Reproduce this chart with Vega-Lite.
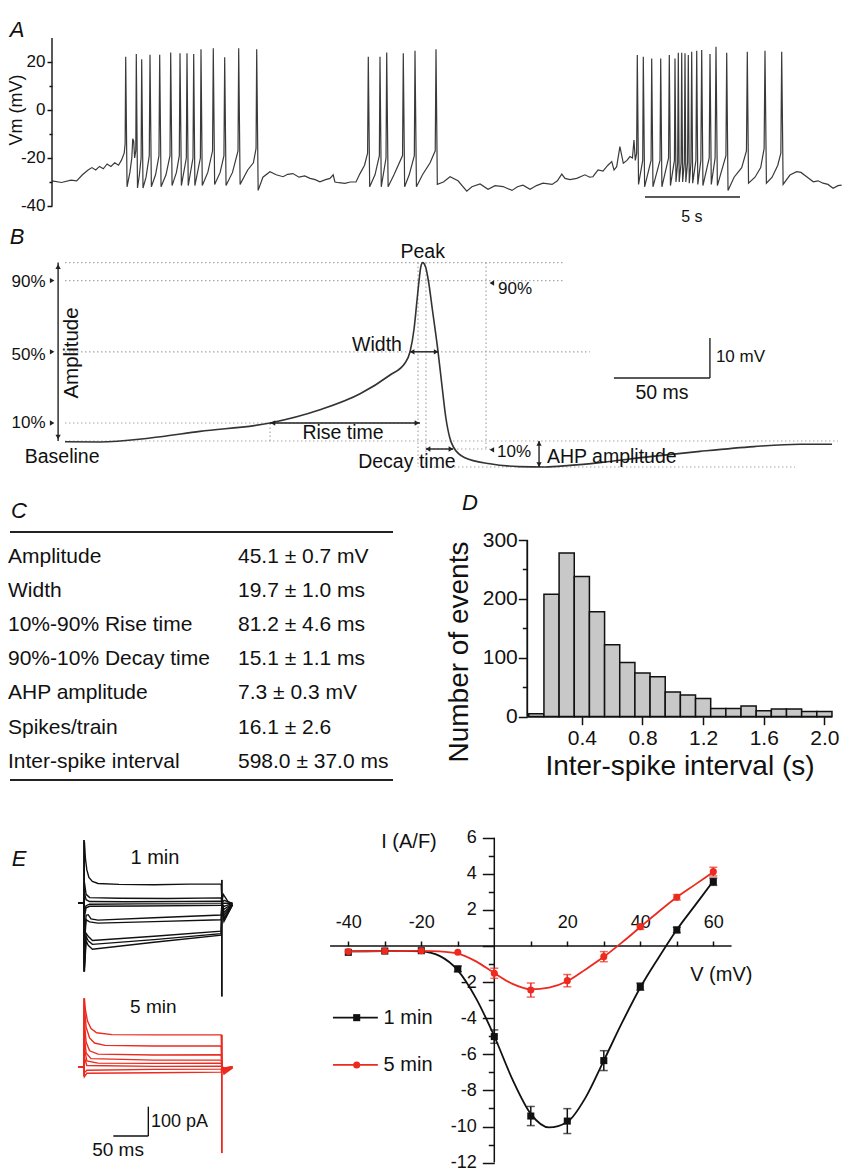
{
"$schema": "https://vega.github.io/schema/vega-lite/v6.json",
"width": 843, "height": 1168,
"autosize": {"type": "none"},
"padding": 0,
"background": "white",
"config": {
 "view": {"stroke": null},
 "font": "Liberation Sans",
 "axis": {"labelFont": "Liberation Sans", "labelColor": "#111", "tickColor": "#111", "domainColor": "#111", "grid": false, "labelOverlap": false, "labelFlush": false, "tickWidth": 1.5},
 "text": {"font": "Liberation Sans", "color": "#111"}
},
"resolve": {"scale": {"x": "independent", "y": "independent", "color": "independent", "shape": "independent"}, "axis": {"x": "independent", "y": "independent"}},
"layer": [
{
 "encoding": {
  "x": {"field": "t", "type": "quantitative", "scale": {"domain": [-2.7368, 41.6316], "nice": false, "zero": false}, "axis": null},
  "y": {"field": "v", "type": "quantitative", "scale": {"domain": [-440.833, 45.833], "nice": false, "zero": false},
        "axis": {"orient": "left", "offset": -52, "domain": false, "values": [-40, -30, -20, -10, 0, 10, 20],
                 "labelExpr": "datum.value % 20 === 0 ? '' + datum.value : ''",
                 "tickSize": {"condition": {"test": "datum.value % 20 !== 0", "value": 3}, "value": 5},
                 "labelFontSize": 17, "labelPadding": 2, "title": null}}
 },
 "layer": [
  {"data": {"values": [
{"t":0,"v":-29.5},{"t":0.5,"v":-30.2},{"t":1.0,"v":-29.2},{"t":1.3,"v":-29.5},{"t":1.6,"v":-27},{"t":1.9,"v":-25},{"t":2.1,"v":-24},{"t":2.3,"v":-25},{"t":2.5,"v":-23.5},{"t":2.7,"v":-24.5},{"t":2.9,"v":-22.5},{"t":3.1,"v":-23.5},{"t":3.3,"v":-22},{"t":3.5,"v":-23},{"t":3.65,"v":-21},{"t":3.8,"v":-18},{"t":3.85,"v":-14},
{"t":3.879,"v":22.2},{"t":3.95,"v":-32},{"t":4.1,"v":-26},{"t":4.2,"v":-20},{"t":4.25,"v":-12},{"t":4.3,"v":-13},{"t":4.35,"v":-20},{"t":4.41,"v":-17},
{"t":4.437,"v":23.3},{"t":4.5,"v":-32.5},{"t":4.6,"v":-27},{"t":4.69,"v":-20},
{"t":4.721,"v":21.1},{"t":4.79,"v":-32.5},{"t":4.95,"v":-28},{"t":5.12,"v":-19},
{"t":5.158,"v":23.0},{"t":5.23,"v":-32},{"t":5.45,"v":-27},{"t":5.63,"v":-19},
{"t":5.668,"v":23.0},{"t":5.74,"v":-32},{"t":6.0,"v":-27},{"t":6.21,"v":-19},
{"t":6.247,"v":24.0},{"t":6.32,"v":-31.5},{"t":6.55,"v":-26},{"t":6.70,"v":-19},
{"t":6.737,"v":23.6},{"t":6.81,"v":-31.5},{"t":7.07,"v":-20},
{"t":7.105,"v":23.6},{"t":7.17,"v":-31.5},{"t":7.42,"v":-20},
{"t":7.458,"v":23.3},{"t":7.52,"v":-31.5},{"t":7.81,"v":-20},
{"t":7.842,"v":25.3},{"t":7.91,"v":-31.5},{"t":8.2,"v":-26},{"t":8.45,"v":-17},
{"t":8.489,"v":25.7},{"t":8.56,"v":-31},{"t":8.85,"v":-26},{"t":9.05,"v":-19},
{"t":9.089,"v":22},{"t":9.16,"v":-31.5},{"t":9.5,"v":-26},{"t":9.79,"v":-17},
{"t":9.826,"v":25.7},{"t":9.9,"v":-31},{"t":10.3,"v":-25},{"t":10.6,"v":-22},{"t":10.74,"v":-16},
{"t":10.774,"v":25.3},{"t":10.85,"v":-33.5},{"t":11.1,"v":-28},{"t":11.47,"v":-25.7},{"t":11.8,"v":-27},{"t":12.16,"v":-27.8},{"t":12.4,"v":-26.8},{"t":12.68,"v":-26.5},{"t":13.0,"v":-28},{"t":13.3,"v":-27.5},{"t":13.58,"v":-28.5},{"t":13.85,"v":-29},{"t":14.1,"v":-29.9},{"t":14.4,"v":-29},{"t":14.63,"v":-28.5},{"t":14.8,"v":-27},{"t":14.89,"v":-30},{"t":15.1,"v":-30.3},{"t":15.42,"v":-30.6},{"t":15.7,"v":-30},{"t":16.0,"v":-30},{"t":16.21,"v":-26.5},{"t":16.45,"v":-23},{"t":16.61,"v":-18},
{"t":16.647,"v":22.2},{"t":16.72,"v":-32},{"t":17.0,"v":-27},{"t":17.23,"v":-19},
{"t":17.263,"v":22.2},{"t":17.33,"v":-32},{"t":17.58,"v":-20},
{"t":17.616,"v":24.0},{"t":17.69,"v":-32},{"t":18.0,"v":-27},{"t":18.45,"v":-19},
{"t":18.489,"v":23.6},{"t":18.56,"v":-32},{"t":18.8,"v":-27},{"t":19.07,"v":-19},
{"t":19.105,"v":24.7},{"t":19.18,"v":-32},{"t":19.5,"v":-27},{"t":19.9,"v":-22},{"t":20.17,"v":-17},
{"t":20.211,"v":25.3},{"t":20.28,"v":-31},{"t":20.6,"v":-30},{"t":20.95,"v":-27.8},{"t":21.37,"v":-29.5},{"t":21.83,"v":-33.8},{"t":22.1,"v":-32},{"t":22.53,"v":-30.8},{"t":22.95,"v":-33},{"t":23.32,"v":-31.5},{"t":23.74,"v":-31.9},{"t":24.21,"v":-33.5},{"t":24.5,"v":-32},{"t":24.79,"v":-31.3},{"t":25.16,"v":-33},{"t":25.5,"v":-31.5},{"t":25.84,"v":-30.5},{"t":26.32,"v":-31},{"t":26.6,"v":-29.5},{"t":26.83,"v":-26.7},{"t":27.0,"v":-28.5},{"t":27.26,"v":-29},{"t":27.62,"v":-28.5},{"t":28.05,"v":-27},{"t":28.3,"v":-28},{"t":28.47,"v":-27.8},{"t":28.74,"v":-25},{"t":29.0,"v":-25.5},{"t":29.26,"v":-23},{"t":29.46,"v":-21.5},{"t":29.58,"v":-25},{"t":29.72,"v":-23.6},{"t":29.89,"v":-15.3},{"t":30.07,"v":-22.2},{"t":30.26,"v":-21},{"t":30.42,"v":-19.4},{"t":30.55,"v":-20},{"t":30.63,"v":-12.5},{"t":30.7,"v":-21},{"t":30.77,"v":-18},
{"t":30.805,"v":22.9},{"t":30.87,"v":-31},{"t":31.09,"v":-21},
{"t":31.121,"v":22.2},{"t":31.19,"v":-32},{"t":31.53,"v":-21},
{"t":31.563,"v":21.5},{"t":31.63,"v":-32},{"t":32.0,"v":-21},
{"t":32.037,"v":21.5},{"t":32.1,"v":-32},{"t":32.45,"v":-20},
{"t":32.489,"v":22.9},{"t":32.55,"v":-31.5},{"t":32.76,"v":-21},
{"t":32.789,"v":21.5},{"t":32.84,"v":-30},{"t":32.93,"v":-22},
{"t":32.963,"v":23.9},{"t":33.01,"v":-30},{"t":33.11,"v":-22},
{"t":33.142,"v":23.9},{"t":33.19,"v":-30},{"t":33.28,"v":-22},
{"t":33.316,"v":23.6},{"t":33.36,"v":-30},{"t":33.45,"v":-22},
{"t":33.489,"v":22.9},{"t":33.54,"v":-30.5},{"t":33.63,"v":-22},
{"t":33.668,"v":24.3},{"t":33.72,"v":-30.5},{"t":33.89,"v":-21},
{"t":33.932,"v":24.7},{"t":33.99,"v":-31},{"t":34.15,"v":-21},
{"t":34.195,"v":25.0},{"t":34.26,"v":-31.5},{"t":34.59,"v":-20},
{"t":34.632,"v":23.3},{"t":34.7,"v":-31},{"t":34.9,"v":-20},
{"t":34.947,"v":26.4},{"t":35.02,"v":-31.5},{"t":35.47,"v":-19},
{"t":35.511,"v":23.9},{"t":35.58,"v":-33.5},{"t":35.9,"v":-28},{"t":36.3,"v":-24},{"t":36.55,"v":-17},
{"t":36.595,"v":24.3},{"t":36.66,"v":-30.5},{"t":37.0,"v":-28},{"t":37.3,"v":-24},{"t":37.48,"v":-16},
{"t":37.526,"v":24.7},{"t":37.6,"v":-30.5},{"t":37.9,"v":-28},{"t":38.2,"v":-23},{"t":38.36,"v":-18},
{"t":38.405,"v":24.3},{"t":38.48,"v":-31},{"t":38.84,"v":-27.1},{"t":39.19,"v":-25.7},{"t":39.42,"v":-26},{"t":39.72,"v":-27.8},{"t":40.07,"v":-29.9},{"t":40.32,"v":-29.5},{"t":40.58,"v":-30.5},{"t":40.84,"v":-31},{"t":41.11,"v":-32.6},{"t":41.37,"v":-31.5},{"t":41.56,"v":-31.3}
  ]}, "mark": {"type": "line", "color": "#3a3a3a", "strokeWidth": 1.2}},
  {"data": {"values": [{"t":0,"t2":0,"v":-40,"v2":30},{"t":31.21,"t2":36.21,"v":-36.25,"v2":-36.25}]},
   "mark": {"type": "rule", "color": "#222", "strokeWidth": 1.5},
   "encoding": {"x2": {"field": "t2"}, "y2": {"field": "v2"}}},
  {"data": {"values": [{"t":33.68,"v":-44.6,"label":"5 s"}]},
   "mark": {"type": "text", "fontSize": 16, "align": "center", "baseline": "middle"},
   "encoding": {"text": {"field": "label"}}},
  {"data": {"values": [{"t":-1.842,"v":0,"label":"Vm (mV)"}]},
   "mark": {"type": "text", "fontSize": 18, "align": "center", "baseline": "middle", "angle": 270},
   "encoding": {"text": {"field": "label"}}},
  {"data": {"values": [{"t":-1.842,"v":33.3,"label":"A"}]},
   "mark": {"type": "text", "fontSize": 22, "fontStyle": "italic", "align": "center", "baseline": "middle"},
   "encoding": {"text": {"field": "label"}}}
 ]
},
{
 "encoding": {
  "x": {"field": "t", "type": "quantitative", "scale": {"domain": [-220.16, 218.91], "nice": false, "zero": false}, "axis": null},
  "y": {"field": "v", "type": "quantitative", "scale": {"domain": [-181.75, 110.25], "nice": false, "zero": false}, "axis": null}
 },
 "layer": [
  {"data": {"values": [
   {"t":-186.3,"t2":74.1,"v":44.6,"v2":44.6},
   {"t":-186.3,"t2":74.1,"v":40.1,"v2":40.1},
   {"t":-186.3,"t2":87.1,"v":22.3,"v2":22.3},
   {"t":-186.3,"t2":-1.4,"v":4.5,"v2":4.5},
   {"t":-186.3,"t2":216.3,"v":0,"v2":0},
   {"t":1.2,"t2":35.1,"v":-2,"v2":-2},
   {"t":3.8,"t2":194,"v":-6.5,"v2":-6.5},
   {"t":-79.5,"t2":-79.5,"v":0,"v2":4.5},
   {"t":-2.45,"t2":-2.45,"v":44.6,"v2":-6.5},
   {"t":1.7,"t2":1.7,"v":44.6,"v2":-6.5},
   {"t":33.0,"t2":33.0,"v":44.6,"v2":-2}
  ]}, "mark": {"type": "rule", "color": "#a8a8a8", "strokeWidth": 1.2, "strokeDash": [1.5, 2.5]},
   "encoding": {"x2": {"field": "t2"}, "y2": {"field": "v2"}}},
  {"data": {"values": [
{"t":-186.3,"v":-0.2},{"t":-168,"v":-0.25},{"t":-142,"v":0.75},{"t":-116,"v":2.4},{"t":-79.5,"v":4.5},{"t":-53.5,"v":7.8},{"t":-32.6,"v":11.8},{"t":-17,"v":16.5},{"t":-9.2,"v":19.5},{"t":-6.6,"v":22.3},{"t":-4.5,"v":28},{"t":-3,"v":35},{"t":-1.9,"v":40.1},{"t":-1,"v":43.5},{"t":0,"v":44.6},{"t":1.5,"v":43.5},{"t":3,"v":40},{"t":5,"v":33},{"t":8,"v":22.3},{"t":10,"v":14},{"t":12,"v":6},{"t":14,"v":1},{"t":16,"v":-1.5},{"t":22,"v":-4.2},{"t":35,"v":-5.7},{"t":50,"v":-6.4},{"t":63.7,"v":-6.5},{"t":76.7,"v":-6.1},{"t":92.3,"v":-5.4},{"t":118.4,"v":-3.9},{"t":144.4,"v":-2.6},{"t":172.5,"v":-1.4},{"t":196.5,"v":-0.8},{"t":213.2,"v":-0.8}
  ]}, "mark": {"type": "line", "color": "#333", "strokeWidth": 1.6, "interpolate": "monotone"}},
  {"data": {"values": [
   {"t":-189.9,"t2":-189.9,"v":0,"v2":44.6},
   {"t":-79.5,"t2":-1.4,"v":4.5,"v2":4.5},
   {"t":-6.6,"t2":8,"v":22.3,"v2":22.3},
   {"t":1.7,"t2":15.8,"v":-2,"v2":-2},
   {"t":60.6,"t2":60.6,"v":0,"v2":-6.5},
   {"t":99.6,"t2":149.6,"v":15.75,"v2":15.75},
   {"t":149.6,"t2":149.6,"v":15.75,"v2":25.75}
  ]}, "mark": {"type": "rule", "color": "#222", "strokeWidth": 1.4},
   "encoding": {"x2": {"field": "t2"}, "y2": {"field": "v2"}}},
  {"data": {"values": [
   {"t":-189.9,"v":43.6,"s":"triangle-up"},{"t":-189.9,"v":1.0,"s":"triangle-down"},
   {"t":-78,"v":4.5,"s":"triangle-left"},{"t":-3,"v":4.5,"s":"triangle-right"},
   {"t":-5.5,"v":22.3,"s":"triangle-left"},{"t":7,"v":22.3,"s":"triangle-right"},
   {"t":2.8,"v":-2,"s":"triangle-left"},{"t":14.7,"v":-2,"s":"triangle-right"},
   {"t":60.6,"v":-0.6,"s":"triangle-up"},{"t":60.6,"v":-5.9,"s":"triangle-down"},
   {"t":-193,"v":40.1,"s":"triangle-right"},{"t":-193,"v":22.3,"s":"triangle-right"},{"t":-193,"v":4.5,"s":"triangle-right"},
   {"t":36,"v":39.5,"s":"triangle-left"},{"t":36,"v":-2.2,"s":"triangle-left"}
  ]}, "mark": {"type": "point", "filled": true, "color": "#222", "size": 28, "opacity": 1},
   "encoding": {"shape": {"field": "s", "type": "nominal", "scale": null}}},
  {"data": {"values": [
   {"t":0,"v":47.2,"label":"Peak"},
   {"t":-23.8,"v":24,"label":"Width"},
   {"t":-41.5,"v":2,"label":"Rise time"},
   {"t":-8.2,"v":-5.25,"label":"Decay time"},
   {"t":-187.8,"v":-4,"label":"Baseline"},
   {"t":124.6,"v":12,"label":"50 ms"}
  ]}, "mark": {"type": "text", "fontSize": 19.5, "align": "center", "baseline": "middle"},
   "encoding": {"text": {"field": "label"}}},
  {"data": {"values": [
   {"t":-205.3,"v":39.8,"label":"90%"},
   {"t":-205.3,"v":21.5,"label":"50%"},
   {"t":-205.3,"v":4.6,"label":"10%"},
   {"t":48.1,"v":38,"label":"90%"},
   {"t":47.6,"v":-2.75,"label":"10%"}
  ]}, "mark": {"type": "text", "fontSize": 17, "align": "center", "baseline": "middle"},
   "encoding": {"text": {"field": "label"}}},
  {"data": {"values": [
   {"t":64.7,"v":-4,"label":"AHP amplitude"}
  ]}, "mark": {"type": "text", "fontSize": 19.5, "align": "left", "baseline": "middle"},
   "encoding": {"text": {"field": "label"}}},
  {"data": {"values": [
   {"t":152.7,"v":21,"label":"10 mV"}
  ]}, "mark": {"type": "text", "fontSize": 17, "align": "left", "baseline": "middle"},
   "encoding": {"text": {"field": "label"}}},
  {"data": {"values": [{"t":-182.7,"v":22,"label":"Amplitude"}]},
   "mark": {"type": "text", "fontSize": 20.5, "align": "center", "baseline": "middle", "angle": 270},
   "encoding": {"text": {"field": "label"}}},
  {"data": {"values": [{"t":-211.3,"v":51,"label":"B"}]},
   "mark": {"type": "text", "fontSize": 22, "fontStyle": "italic", "align": "center", "baseline": "middle"},
   "encoding": {"text": {"field": "label"}}}
 ]
},
{
 "encoding": {
  "x": {"field": "cx", "type": "quantitative", "scale": {"domain": [-0.034783, 3.630435], "nice": false, "zero": false}, "axis": null},
  "y": {"field": "r", "type": "quantitative", "scale": {"domain": [-15.2921, 18.89], "nice": false, "zero": false, "reverse": true}, "axis": null}
 },
 "layer": [
  {"data": {"values": [{"cx":0.0087,"cx2":1.674,"r":0.277},{"cx":0.0087,"cx2":1.674,"r":7.535}]},
   "mark": {"type": "rule", "color": "#222", "strokeWidth": 2},
   "encoding": {"x2": {"field": "cx2"}}},
  {"data": {"values": [
   {"cx":0,"r":1,"label":"Amplitude"},{"cx":1,"r":1,"label":"45.1 ± 0.7 mV"},
   {"cx":0,"r":2,"label":"Width"},{"cx":1,"r":2,"label":"19.7 ± 1.0 ms"},
   {"cx":0,"r":3,"label":"10%-90% Rise time"},{"cx":1,"r":3,"label":"81.2 ± 4.6 ms"},
   {"cx":0,"r":4,"label":"90%-10% Decay time"},{"cx":1,"r":4,"label":"15.1 ± 1.1 ms"},
   {"cx":0,"r":5,"label":"AHP amplitude"},{"cx":1,"r":5,"label":"7.3 ± 0.3 mV"},
   {"cx":0,"r":6,"label":"Spikes/train"},{"cx":1,"r":6,"label":"16.1 ± 2.6"},
   {"cx":0,"r":7,"label":"Inter-spike interval"},{"cx":1,"r":7,"label":"598.0 ± 37.0 ms"}
  ]}, "mark": {"type": "text", "fontSize": 21, "align": "left", "baseline": "middle"},
   "encoding": {"text": {"field": "label"}}},
  {"data": {"values": [{"cx":0.0478,"r":-0.33,"label":"C"}]},
   "mark": {"type": "text", "fontSize": 22, "fontStyle": "italic", "align": "center", "baseline": "middle"},
   "encoding": {"text": {"field": "label"}}}
 ]
},
{
 "encoding": {
  "x": {"field": "s", "type": "quantitative", "scale": {"domain": [-3.438, 2.1227], "nice": false, "zero": false},
        "axis": {"orient": "bottom", "offset": -451.3, "domain": false, "values": [0.4, 0.8, 1.2, 1.6, 2.0], "format": ".1f", "tickSize": 8, "labelFontSize": 21, "labelPadding": 3, "title": null}},
  "y": {"field": "c", "type": "quantitative", "scale": {"domain": [-766.21, 1216.81], "nice": false, "zero": false},
        "axis": {"orient": "left", "offset": -527.3, "domain": false, "values": [0, 50, 100, 150, 200, 250, 300],
                 "labelExpr": "datum.value % 100 === 0 ? datum.label : ''",
                 "tickSize": {"condition": {"test": "datum.value % 100 !== 0", "value": 5}, "value": 9},
                 "labelFontSize": 21, "labelPadding": 1, "title": null}}
 },
 "layer": [
  {"data": {"values": [
   {"s":0.05,"s2":0.15,"c":5},{"s":0.15,"s2":0.25,"c":208},{"s":0.25,"s2":0.35,"c":278},{"s":0.35,"s2":0.45,"c":238},
   {"s":0.45,"s2":0.55,"c":178},{"s":0.55,"s2":0.65,"c":122},{"s":0.65,"s2":0.75,"c":92},{"s":0.75,"s2":0.85,"c":74},
   {"s":0.85,"s2":0.95,"c":68},{"s":0.95,"s2":1.05,"c":42},{"s":1.05,"s2":1.15,"c":37},{"s":1.15,"s2":1.25,"c":31},
   {"s":1.25,"s2":1.35,"c":14},{"s":1.35,"s2":1.45,"c":14},{"s":1.45,"s2":1.55,"c":18},{"s":1.55,"s2":1.65,"c":10},
   {"s":1.65,"s2":1.75,"c":13},{"s":1.75,"s2":1.85,"c":13},{"s":1.85,"s2":1.95,"c":9},{"s":1.95,"s2":2.05,"c":9}
  ]}, "mark": {"type": "bar", "fill": "#c8c8c8", "stroke": "#111", "strokeWidth": 1.5},
   "encoding": {"x2": {"field": "s2"}, "y2": {"datum": 0}}},
  {"data": {"values": [{"s":0.04,"s2":0.04,"c":0,"c2":300},{"s":0.04,"s2":2.05,"c":0,"c2":0}]},
   "mark": {"type": "rule", "color": "#111", "strokeWidth": 1.8},
   "encoding": {"x2": {"field": "s2"}, "y2": {"field": "c2"}}},
  {"data": {"values": [{"s":-0.4037,"c":109.8,"label":"Number of events"}]},
   "mark": {"type": "text", "fontSize": 28, "align": "center", "baseline": "middle", "angle": 270},
   "encoding": {"text": {"field": "label"}}},
  {"data": {"values": [{"s":1.0475,"c":-85.4,"label":"Inter-spike interval (s)"}]},
   "mark": {"type": "text", "fontSize": 28, "align": "center", "baseline": "middle"},
   "encoding": {"text": {"field": "label"}}},
  {"data": {"values": [{"s":-0.3377,"c":362.8,"label":"D"}]},
   "mark": {"type": "text", "fontSize": 22, "fontStyle": "italic", "align": "center", "baseline": "middle"},
   "encoding": {"text": {"field": "label"}}}
 ]
},
{
 "encoding": {
  "x": {"field": "t", "type": "quantitative", "scale": {"domain": [-120, 1084.29], "nice": false, "zero": false}, "axis": null},
  "y": {"field": "i", "type": "quantitative", "scale": {"domain": [-882.33, 3011], "nice": false, "zero": false}, "axis": null}
 },
 "layer": [
  {"data": {"values": [
{"k":"b1","t":-8,"i":0},{"k":"b1","t":0,"i":0},{"k":"b1","t":0.6,"i":205},{"k":"b1","t":2,"i":150},{"k":"b1","t":4,"i":112},{"k":"b1","t":7,"i":86},{"k":"b1","t":12,"i":73},{"k":"b1","t":20,"i":66},{"k":"b1","t":50,"i":63},{"k":"b1","t":100,"i":62},{"k":"b1","t":150,"i":64},{"k":"b1","t":196,"i":64},{"k":"b1","t":197,"i":5},{"k":"b1","t":199,"i":30},{"k":"b1","t":206,"i":5},{"k":"b1","t":212,"i":0},
{"k":"b2","t":-8,"i":0},{"k":"b2","t":0,"i":0},{"k":"b2","t":0.6,"i":70},{"k":"b2","t":3,"i":30},{"k":"b2","t":8,"i":19},{"k":"b2","t":50,"i":17},{"k":"b2","t":120,"i":16},{"k":"b2","t":196,"i":18},{"k":"b2","t":197,"i":0},{"k":"b2","t":200,"i":10},{"k":"b2","t":212,"i":0},
{"k":"b3","t":-8,"i":0},{"k":"b3","t":0,"i":0},{"k":"b3","t":0.6,"i":35},{"k":"b3","t":3,"i":12},{"k":"b3","t":8,"i":6},{"k":"b3","t":60,"i":5},{"k":"b3","t":140,"i":6},{"k":"b3","t":196,"i":7},{"k":"b3","t":197,"i":0},{"k":"b3","t":212,"i":0},
{"k":"b4","t":-8,"i":0},{"k":"b4","t":0,"i":0},{"k":"b4","t":0.6,"i":-25},{"k":"b4","t":3,"i":-8},{"k":"b4","t":8,"i":-3},{"k":"b4","t":80,"i":-2},{"k":"b4","t":196,"i":-1},{"k":"b4","t":197,"i":0},{"k":"b4","t":200,"i":-10},{"k":"b4","t":212,"i":0},
{"k":"b5","t":-8,"i":0},{"k":"b5","t":0,"i":0},{"k":"b5","t":0.6,"i":-45},{"k":"b5","t":3,"i":-15},{"k":"b5","t":8,"i":-10},{"k":"b5","t":80,"i":-9},{"k":"b5","t":196,"i":-7},{"k":"b5","t":197,"i":0},{"k":"b5","t":200,"i":-20},{"k":"b5","t":212,"i":-2},
{"k":"b6","t":-8,"i":0},{"k":"b6","t":0,"i":0},{"k":"b6","t":0.6,"i":-120},{"k":"b6","t":3,"i":-40},{"k":"b6","t":6,"i":-38},{"k":"b6","t":10,"i":-52},{"k":"b6","t":20,"i":-56},{"k":"b6","t":100,"i":-48},{"k":"b6","t":196,"i":-39},{"k":"b6","t":197,"i":0},{"k":"b6","t":200,"i":-30},{"k":"b6","t":212,"i":-3},
{"k":"b7","t":-8,"i":0},{"k":"b7","t":0,"i":0},{"k":"b7","t":0.6,"i":-140},{"k":"b7","t":3,"i":-55},{"k":"b7","t":8,"i":-62},{"k":"b7","t":20,"i":-66},{"k":"b7","t":100,"i":-61},{"k":"b7","t":196,"i":-55},{"k":"b7","t":197,"i":0},{"k":"b7","t":200,"i":-40},{"k":"b7","t":212,"i":-4},
{"k":"b8","t":-8,"i":0},{"k":"b8","t":0,"i":0},{"k":"b8","t":0.6,"i":-200},{"k":"b8","t":3,"i":-100},{"k":"b8","t":6,"i":-110},{"k":"b8","t":12,"i":-124},{"k":"b8","t":100,"i":-110},{"k":"b8","t":196,"i":-93},{"k":"b8","t":197,"i":0},{"k":"b8","t":200,"i":-50},{"k":"b8","t":212,"i":-5},
{"k":"b9","t":-8,"i":0},{"k":"b9","t":0,"i":0},{"k":"b9","t":0.6,"i":-215},{"k":"b9","t":3,"i":-110},{"k":"b9","t":6,"i":-125},{"k":"b9","t":12,"i":-137},{"k":"b9","t":100,"i":-121},{"k":"b9","t":196,"i":-101},{"k":"b9","t":197,"i":0},{"k":"b9","t":200,"i":-55},{"k":"b9","t":212,"i":-5},
{"k":"b10","t":-8,"i":0},{"k":"b10","t":0,"i":0},{"k":"b10","t":0.6,"i":-228},{"k":"b10","t":3,"i":-125},{"k":"b10","t":6,"i":-140},{"k":"b10","t":12,"i":-153},{"k":"b10","t":100,"i":-130},{"k":"b10","t":196,"i":-106},{"k":"b10","t":197,"i":0},{"k":"b10","t":200,"i":-60},{"k":"b10","t":212,"i":-6}
  ]}, "mark": {"type": "line", "color": "#111", "strokeWidth": 1.4},
   "encoding": {"detail": {"field": "k", "type": "nominal"}}},
  {"data": {"values": [{"t":0,"t2":0,"i":-228,"i2":211},{"t":197,"t2":197,"i":-311,"i2":78}]},
   "mark": {"type": "rule", "color": "#111", "strokeWidth": 1.8},
   "encoding": {"x2": {"field": "t2"}, "y2": {"field": "i2"}}},
  {"data": {"values": [{"t":101.4,"i":150,"label":"1 min"}]},
   "mark": {"type": "text", "fontSize": 20, "align": "center", "baseline": "middle"},
   "encoding": {"text": {"field": "label"}}},
  {"data": {"values": [{"t":-92.9,"i":147.7,"label":"E"}]},
   "mark": {"type": "text", "fontSize": 22, "fontStyle": "italic", "align": "center", "baseline": "middle"},
   "encoding": {"text": {"field": "label"}}}
 ]
},
{
 "encoding": {
  "x": {"field": "t", "type": "quantitative", "scale": {"domain": [-120, 1084.29], "nice": false, "zero": false}, "axis": null},
  "y": {"field": "i", "type": "quantitative", "scale": {"domain": [-337.67, 3555.67], "nice": false, "zero": false}, "axis": null}
 },
 "layer": [
  {"data": {"values": [
{"k":"r1","t":-8,"i":0},{"k":"r1","t":0,"i":0},{"k":"r1","t":0.6,"i":228},{"k":"r1","t":2,"i":190},{"k":"r1","t":5,"i":152},{"k":"r1","t":10,"i":127},{"k":"r1","t":18,"i":113},{"k":"r1","t":40,"i":107},{"k":"r1","t":100,"i":106},{"k":"r1","t":196,"i":106},{"k":"r1","t":197,"i":0},{"k":"r1","t":200,"i":-25},{"k":"r1","t":212,"i":-4},
{"k":"r2","t":-8,"i":0},{"k":"r2","t":0,"i":0},{"k":"r2","t":0.6,"i":200},{"k":"r2","t":3,"i":132},{"k":"r2","t":8,"i":96},{"k":"r2","t":15,"i":79},{"k":"r2","t":30,"i":71},{"k":"r2","t":100,"i":69},{"k":"r2","t":196,"i":69},{"k":"r2","t":197,"i":0},{"k":"r2","t":200,"i":-20},{"k":"r2","t":212,"i":-3},
{"k":"r3","t":-8,"i":0},{"k":"r3","t":0,"i":0},{"k":"r3","t":0.6,"i":150},{"k":"r3","t":3,"i":82},{"k":"r3","t":8,"i":53},{"k":"r3","t":20,"i":42},{"k":"r3","t":100,"i":39},{"k":"r3","t":196,"i":40},{"k":"r3","t":197,"i":0},{"k":"r3","t":200,"i":-15},{"k":"r3","t":212,"i":-2},
{"k":"r4","t":-8,"i":0},{"k":"r4","t":0,"i":0},{"k":"r4","t":0.6,"i":100},{"k":"r4","t":3,"i":46},{"k":"r4","t":10,"i":27},{"k":"r4","t":100,"i":22},{"k":"r4","t":196,"i":22},{"k":"r4","t":197,"i":0},{"k":"r4","t":200,"i":-12},{"k":"r4","t":212,"i":-2},
{"k":"r5","t":-8,"i":0},{"k":"r5","t":0,"i":0},{"k":"r5","t":0.6,"i":60},{"k":"r5","t":4,"i":19},{"k":"r5","t":20,"i":12},{"k":"r5","t":100,"i":11},{"k":"r5","t":196,"i":12},{"k":"r5","t":197,"i":0},{"k":"r5","t":200,"i":-10},{"k":"r5","t":212,"i":-1},
{"k":"r6","t":-8,"i":0},{"k":"r6","t":0,"i":0},{"k":"r6","t":0.6,"i":30},{"k":"r6","t":4,"i":4},{"k":"r6","t":100,"i":1},{"k":"r6","t":196,"i":2},{"k":"r6","t":197,"i":0},{"k":"r6","t":200,"i":-8},{"k":"r6","t":212,"i":0},
{"k":"r7","t":-8,"i":0},{"k":"r7","t":0,"i":0},{"k":"r7","t":0.6,"i":-20},{"k":"r7","t":4,"i":-12},{"k":"r7","t":100,"i":-9},{"k":"r7","t":196,"i":-8},{"k":"r7","t":197,"i":0},{"k":"r7","t":200,"i":-6},{"k":"r7","t":212,"i":0},
{"k":"r8","t":-8,"i":0},{"k":"r8","t":0,"i":0},{"k":"r8","t":0.6,"i":-33},{"k":"r8","t":4,"i":-22},{"k":"r8","t":100,"i":-20},{"k":"r8","t":196,"i":-18},{"k":"r8","t":197,"i":0},{"k":"r8","t":200,"i":-4},{"k":"r8","t":212,"i":0}
  ]}, "mark": {"type": "line", "color": "#ec2a1f", "strokeWidth": 1.4},
   "encoding": {"detail": {"field": "k", "type": "nominal"}}},
  {"data": {"values": [{"t":0,"t2":0,"i":-33,"i2":228},{"t":197,"t2":197,"i":-288,"i2":106}]},
   "mark": {"type": "rule", "color": "#ec2a1f", "strokeWidth": 1.8},
   "encoding": {"x2": {"field": "t2"}, "y2": {"field": "i2"}}},
  {"data": {"values": [{"t":41.9,"t2":91.9,"i":-231,"i2":-231},{"t":91.9,"t2":91.9,"i":-231,"i2":-133.3}]},
   "mark": {"type": "rule", "color": "#111", "strokeWidth": 1.4},
   "encoding": {"x2": {"field": "t2"}, "y2": {"field": "i2"}}},
  {"data": {"values": [{"t":99,"i":200,"label":"5 min"},{"t":48.6,"i":-277.7,"label":"50 ms"}]},
   "mark": {"type": "text", "fontSize": 19, "align": "center", "baseline": "middle"},
   "encoding": {"text": {"field": "label"}}},
  {"data": {"values": [{"t":95.7,"i":-184,"label":"100 pA"}]},
   "mark": {"type": "text", "fontSize": 18, "align": "left", "baseline": "middle"},
   "encoding": {"text": {"field": "label"}}}
 ]
},
{
 "encoding": {
  "x": {"field": "v", "type": "quantitative", "scale": {"domain": [-135.425, 95.534], "nice": false, "zero": false},
        "axis": {"orient": "top", "offset": -946, "domain": false, "values": [-40, -30, -20, -10, 10, 20, 30, 40, 50, 60],
                 "labelExpr": "datum.value % 20 === 0 ? '' + datum.value : ''", "tickSize": 5, "labelFontSize": 18, "labelPadding": 10, "title": null}},
  "y": {"field": "cur", "type": "quantitative", "scale": {"domain": [-12.299, 52.41], "nice": false, "zero": false},
        "axis": {"orient": "left", "offset": -494.3, "domain": false, "values": [-12,-11,-10,-9,-8,-7,-6,-5,-4,-3,-2,-1,0,1,2,3,4,5,6],
                 "labelExpr": "datum.value % 2 === 0 && datum.value !== 0 ? '' + datum.value : ''",
                 "tickSize": {"condition": {"test": "datum.value % 2 !== 0", "value": 6}, "value": 12},
                 "labelFontSize": 18, "labelPadding": 6, "title": null}}
 },
 "layer": [
  {"data": {"values": [{"v":0,"v2":0,"cur":-12,"cur2":6},{"v":-45,"v2":65,"cur":0,"cur2":0}]},
   "mark": {"type": "rule", "color": "#111", "strokeWidth": 1.5},
   "encoding": {"x2": {"field": "v2"}, "y2": {"field": "cur2"}}},
  {"data": {"values": [
{"s":"1 min","v":-40,"cur":-0.3},{"s":"1 min","v":-30,"cur":-0.28},{"s":"1 min","v":-25,"cur":-0.27},{"s":"1 min","v":-20,"cur":-0.3},{"s":"1 min","v":-15,"cur":-0.55},{"s":"1 min","v":-10,"cur":-1.35},{"s":"1 min","v":-5,"cur":-2.9},{"s":"1 min","v":0,"cur":-5.0},{"s":"1 min","v":5,"cur":-7.4},{"s":"1 min","v":10,"cur":-9.3},{"s":"1 min","v":15,"cur":-10.05},{"s":"1 min","v":20,"cur":-9.75},{"s":"1 min","v":25,"cur":-8.4},{"s":"1 min","v":30,"cur":-6.35},{"s":"1 min","v":35,"cur":-4.25},{"s":"1 min","v":40,"cur":-2.3},{"s":"1 min","v":45,"cur":-0.65},{"s":"1 min","v":50,"cur":0.9},{"s":"1 min","v":55,"cur":2.25},{"s":"1 min","v":60,"cur":3.6},
{"s":"5 min","v":-40,"cur":-0.3},{"s":"5 min","v":-30,"cur":-0.28},{"s":"5 min","v":-20,"cur":-0.27},{"s":"5 min","v":-15,"cur":-0.3},{"s":"5 min","v":-10,"cur":-0.42},{"s":"5 min","v":-5,"cur":-0.85},{"s":"5 min","v":0,"cur":-1.5},{"s":"5 min","v":5,"cur":-2.1},{"s":"5 min","v":10,"cur":-2.4},{"s":"5 min","v":15,"cur":-2.3},{"s":"5 min","v":20,"cur":-1.95},{"s":"5 min","v":25,"cur":-1.3},{"s":"5 min","v":30,"cur":-0.6},{"s":"5 min","v":35,"cur":0.2},{"s":"5 min","v":40,"cur":1.05},{"s":"5 min","v":45,"cur":1.9},{"s":"5 min","v":50,"cur":2.7},{"s":"5 min","v":55,"cur":3.4},{"s":"5 min","v":60,"cur":4.1}
  ]}, "mark": {"type": "line", "strokeWidth": 1.8, "interpolate": "monotone"},
   "encoding": {"color": {"field": "s", "type": "nominal", "scale": {"domain": ["1 min", "5 min"], "range": ["#111111", "#ec2a1f"]}, "legend": null}}},
  {"data": {"values": [
{"s":"1 min","v":-10,"lo":-1.42,"hi":-1.12},{"s":"1 min","v":0,"lo":-5.39,"hi":-4.65},{"s":"1 min","v":10,"lo":-9.95,"hi":-8.89},{"s":"1 min","v":20,"lo":-10.39,"hi":-9.01},{"s":"1 min","v":30,"lo":-6.9,"hi":-5.8},{"s":"1 min","v":40,"lo":-2.45,"hi":-2.05},{"s":"1 min","v":50,"lo":0.74,"hi":1.04},{"s":"1 min","v":60,"lo":3.36,"hi":3.76},
{"s":"5 min","v":0,"lo":-1.79,"hi":-1.23},{"s":"5 min","v":10,"lo":-2.83,"hi":-2.05},{"s":"5 min","v":20,"lo":-2.26,"hi":-1.58},{"s":"5 min","v":30,"lo":-0.87,"hi":-0.31},{"s":"5 min","v":40,"lo":0.92,"hi":1.22},{"s":"5 min","v":50,"lo":2.55,"hi":2.85},{"s":"5 min","v":60,"lo":3.88,"hi":4.36}
  ]},
   "transform": [{"fold": ["lo", "hi"], "as": ["end", "cur"]}],
   "layer": [
    {"mark": {"type": "line", "strokeWidth": 1.5},
     "encoding": {"detail": {"field": "v", "type": "nominal"}, "color": {"field": "s", "type": "nominal", "scale": {"domain": ["1 min", "5 min"], "range": ["#111111", "#ec2a1f"]}, "legend": null}}},
    {"mark": {"type": "tick", "orient": "horizontal", "size": 8, "thickness": 1.5},
     "encoding": {"color": {"field": "s", "type": "nominal", "scale": {"domain": ["1 min", "5 min"], "range": ["#111111", "#ec2a1f"]}, "legend": null}}}
   ]},
  {"data": {"values": [
{"s":"1 min","v":-40,"cur":-0.35},{"s":"1 min","v":-30,"cur":-0.28},{"s":"1 min","v":-20,"cur":-0.26},{"s":"1 min","v":-10,"cur":-1.27},{"s":"1 min","v":0,"cur":-5.02},{"s":"1 min","v":10,"cur":-9.42},{"s":"1 min","v":20,"cur":-9.7},{"s":"1 min","v":30,"cur":-6.35},{"s":"1 min","v":40,"cur":-2.25},{"s":"1 min","v":50,"cur":0.89},{"s":"1 min","v":60,"cur":3.56},
{"s":"5 min","v":-40,"cur":-0.31},{"s":"5 min","v":-30,"cur":-0.28},{"s":"5 min","v":-20,"cur":-0.26},{"s":"5 min","v":-10,"cur":-0.35},{"s":"5 min","v":0,"cur":-1.51},{"s":"5 min","v":10,"cur":-2.44},{"s":"5 min","v":20,"cur":-1.92},{"s":"5 min","v":30,"cur":-0.59},{"s":"5 min","v":40,"cur":1.07},{"s":"5 min","v":50,"cur":2.7},{"s":"5 min","v":60,"cur":4.12},
{"s":"1 min","v":-37.7,"cur":-3.97},{"s":"5 min","v":-37.7,"cur":-6.59}
  ]}, "mark": {"type": "point", "filled": true, "size": 50, "opacity": 1},
   "encoding": {
     "color": {"field": "s", "type": "nominal", "scale": {"domain": ["1 min", "5 min"], "range": ["#111111", "#ec2a1f"]}, "legend": null},
     "shape": {"field": "s", "type": "nominal", "scale": {"domain": ["1 min", "5 min"], "range": ["square", "circle"]}, "legend": null}}},
  {"data": {"values": [{"s":"1 min","v":-44.2,"v2":-31.9,"cur":-3.97},{"s":"5 min","v":-44.2,"v2":-31.9,"cur":-6.59}]},
   "mark": {"type": "rule", "strokeWidth": 1.8},
   "encoding": {"x2": {"field": "v2"},
     "color": {"field": "s", "type": "nominal", "scale": {"domain": ["1 min", "5 min"], "range": ["#111111", "#ec2a1f"]}, "legend": null}}},
  {"data": {"values": [{"v":-30.33,"cur":-3.97,"label":"1 min"},{"v":-30.33,"cur":-6.59,"label":"5 min"}]},
   "mark": {"type": "text", "fontSize": 20, "align": "left", "baseline": "middle"},
   "encoding": {"text": {"field": "label"}}},
  {"data": {"values": [{"v":-23.37,"cur":5.778,"label":"I (A/F)"},{"v":62.2,"cur":-1.607,"label":"V (mV)"}]},
   "mark": {"type": "text", "fontSize": 20, "align": "center", "baseline": "middle"},
   "encoding": {"text": {"field": "label"}}}
 ]
}
]
}
